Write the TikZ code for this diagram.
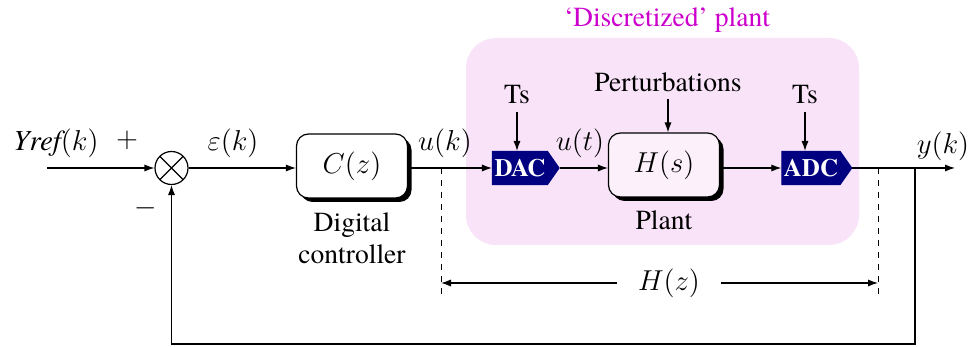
\documentclass[tikz,border=0pt]{standalone}
\usepackage{fontspec}
\setmainfont{texgyretermes}[Extension=.otf,UprightFont=*-regular,BoldFont=*-bold,
  ItalicFont=*-italic,BoldItalicFont=*-bolditalic]
\usetikzlibrary{arrows.meta,positioning,shapes.symbols,shadows}
\definecolor{plantbg}{HTML}{F9E3F8}
\definecolor{titlemag}{HTML}{CC00CC}
\definecolor{convnavy}{HTML}{000080}

\begin{document}
\begin{tikzpicture}[x=0.5pt,y=-0.5pt,>={Latex[length=5pt,width=3.6pt]},
    line width=0.6pt,font=\fontsize{13.8}{16}\selectfont,
    block/.style={draw,rounded corners=6pt,minimum width=55.5pt,minimum height=32pt,
      drop shadow={shadow xshift=2pt,shadow yshift=-2pt,opacity=1,fill=black}},
    conv/.style={signal,signal to=east,signal pointer angle=110,fill=convnavy,draw=convnavy,
      text=white,font=\fontsize{12.5}{14}\selectfont\bfseries,minimum width=33pt,
      minimum height=16.5pt,inner sep=1pt},
    sumnode/.style={draw,circle,minimum size=16.5pt,inner sep=0pt,fill=white,
      path picture={\draw (path picture bounding box.north west)--(path picture bounding box.south east)
        (path picture bounding box.north east)--(path picture bounding box.south west);}},
    mlab/.style={font=\fontsize{14.5}{17}\selectfont},
    dimline/.style={dashed,line width=0.4pt}]
    \useasboundingbox (0,0) rectangle (971,347);
    % discretized plant region
    \node[fill=plantbg,rounded corners=15pt,minimum width=196.5pt,minimum height=103.5pt] (disc) at (662.5,141.5) {};
    \node[text=titlemag] (disctitle) at (667,20) {‘Discretized’ plant};
    % blocks
    \node[sumnode] (sum) at (171.5,168) {};
    \node[block,fill=white,mlab] (ctrl) at (352,166) {$C(z)$};
    \node[conv] (dac) at (520,168) {DAC};
    \node[block,fill=plantbg!50!white,mlab] (plant) at (664,165) {$H(s)$};
    \node[conv] (adc) at (811,168) {ADC};
    % labels
    \node[mlab] (yref) at (56,143) {$\textit{Yref}(k)$};
    \node (plus) at (127,140) {$+$};
    \node (minus) at (146,208) {$-$};
    \node[mlab] (eps) at (233,143) {$\varepsilon(k)$};
    \node[mlab] (uk) at (445,143) {$u(k)$};
    \node[mlab] (ut) at (580,143) {$u(t)$};
    \node[mlab] (yk) at (943,146) {$y(k)$};
    \node[align=center,below=3.5pt of ctrl] (ctrllab) {Digital\\controller};
    \node[below=3pt of plant] (plantlab) {Plant};
    \node (tsdac) at (517,95) {Ts};
    \node (tsadc) at (805,95) {Ts};
    \node (pert) at (668,82) {Perturbations};
    % free ends
    \coordinate (in) at (47,168);
    \coordinate (out) at (955,168);
    \coordinate (fb) at (915,168);
    \coordinate (fbb) at (915,344);
    \coordinate (uktap) at (441,168);
    \coordinate (yktap) at (878,168);
    \coordinate (dl) at (441,283);
    \coordinate (dr) at (878,283);
    % signal path
    \draw[->] (in) -- (sum.west);
    \draw[->] (sum.east) -- (sum.east -| ctrl.west);
    \draw[->] (ctrl.east |- dac.west) -- (dac.west);
    \draw[->] (dac.east) -- (dac.east -| plant.west);
    \draw[->] (plant.east |- adc.west) -- (adc.west);
    \draw[->] (adc.east) -- (out);
    \draw[->] (fb) -- (fbb) -| (sum.south);
    \draw[->] (tsdac.south) -- (tsdac.south |- dac.north);
    \draw[->] (tsadc.south) -- (tsadc.south |- adc.north);
    \draw[->] (pert.south) -- (pert.south |- plant.north);
    % H(z) span
    \draw[dimline] (uktap) -- (441,297);
    \draw[dimline] (yktap) -- (878,297);
    \node[mlab,inner xsep=10pt] (hz) at (669,283) {$H(z)$};
    \draw[->] (hz.west) -- (dl);
    \draw[->] (hz.east) -- (dr);
\end{tikzpicture}
\end{document}
